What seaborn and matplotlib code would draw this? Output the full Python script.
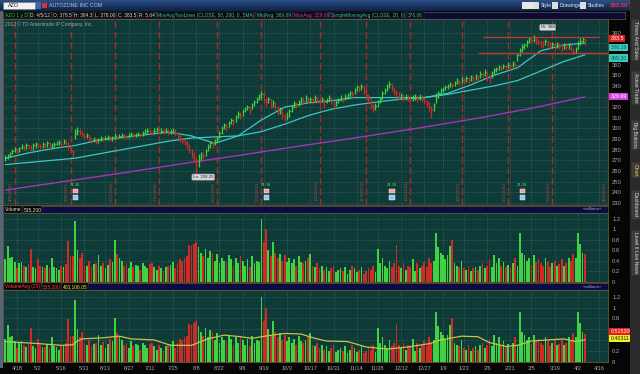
import numpy as np
import pandas as pd
import matplotlib
matplotlib.use("Agg")
import matplotlib.pyplot as plt
import seaborn as sns

# ---------------- data ----------------
symbol = "AZO"
company = "AUTOZONE INC COM"
start_date = "2011-04-11"
holidays = ["2011-04-22", "2011-05-30", "2011-07-04", "2011-09-05", "2011-11-24",
            "2011-12-26", "2012-01-02", "2012-01-16", "2012-02-20", "2012-04-06"]

closes = [272, 274, 277, 279, 281, 278, 282, 283, 282, 284,
          283, 281, 284, 285, 284, 283, 285, 284, 286, 283,
          284, 285, 286, 287, 285, 288, 286, 283, 279, 277,
          296, 298, 297, 295, 293, 294, 291, 289, 290, 288,
          289, 291, 290, 291, 292, 290, 291, 293, 292, 293,
          294, 293, 292, 294, 295, 293, 294, 295, 294, 296,
          297, 298, 297, 296, 298, 299, 297, 298, 297, 298,
          296, 297, 298, 296, 293, 290, 288, 287, 284, 280,
          276, 273, 266, 272, 275, 274, 279, 283, 286, 285,
          288, 290, 296, 300, 303, 301, 305, 308, 306, 311,
          314, 312, 316, 318, 320, 317, 322, 325, 328, 330,
          332, 327, 325, 328, 322, 324, 320, 316, 318, 313,
          310, 312, 316, 320, 324, 322, 325, 328, 326, 329,
          327, 328, 326, 329, 327, 326, 328, 325, 327, 329,
          326, 321, 325, 327, 329, 328, 330, 331, 333, 332,
          336, 339, 337, 340, 335, 331, 328, 322, 319, 321,
          325, 328, 333, 336, 340, 342, 338, 335, 333, 330,
          331, 328, 330, 329, 327, 329, 330, 328, 330, 328,
          326, 324, 320, 317, 322, 330, 333, 336, 337, 339,
          340, 342, 341, 343, 345, 344, 346, 345, 347, 346,
          348, 347, 349, 348, 351, 350, 353, 349, 347, 352,
          355, 356, 358, 357, 359, 358, 360, 359, 361, 360,
          369, 374, 377, 378, 381, 384, 383, 385, 382, 381,
          380, 379, 382, 380, 378, 379, 377, 379, 378, 376,
          378, 377, 378, 376, 372, 375, 379, 382, 384, 383.5]

highs = [275, 276, 278, 281, 283, 282, 283, 285, 284, 286,
         285, 284, 286, 287, 286, 285, 287, 286, 288, 287,
         286, 287, 288, 289, 288, 290, 289, 287, 284, 280,
         299, 301, 300, 298, 296, 296, 294, 292, 292, 291,
         291, 293, 292, 293, 294, 293, 293, 296, 294, 295,
         296, 295, 294, 296, 297, 296, 296, 297, 296, 298,
         299, 300, 299, 298, 300, 301, 300, 300, 299, 300,
         299, 299, 300, 299, 297, 294, 291, 290, 288, 285,
         281, 278, 272, 276, 278, 278, 281, 285, 288, 288,
         290, 293, 298, 302, 305, 304, 307, 310, 309, 313,
         316, 315, 318, 320, 322, 321, 324, 327, 330, 332,
         335, 334, 329, 330, 328, 327, 325, 321, 320, 318,
         314, 315, 318, 322, 326, 325, 327, 330, 329, 331,
         330, 330, 329, 331, 330, 329, 330, 328, 329, 331,
         330, 326, 327, 329, 331, 330, 332, 333, 335, 335,
         338, 341, 340, 342, 340, 336, 332, 329, 323, 324,
         327, 330, 335, 338, 342, 345, 343, 339, 336, 334,
         333, 332, 332, 331, 330, 331, 332, 331, 332, 331,
         329, 327, 325, 321, 324, 333, 335, 338, 339, 341,
         342, 344, 343, 345, 347, 346, 348, 347, 349, 348,
         350, 349, 351, 350, 354, 353, 356, 354, 351, 354,
         357, 358, 360, 359, 361, 360, 362, 361, 363, 362,
         371, 376, 379, 380, 383, 386, 385, 388, 386, 384,
         383, 382, 384, 383, 381, 381, 380, 381, 380, 379,
         380, 379, 380, 379, 376, 377, 382, 385, 386, 384.3]

lows = [269, 271, 273, 276, 278, 276, 278, 281, 280, 281,
        281, 279, 280, 282, 282, 281, 282, 282, 283, 281,
        281, 283, 284, 284, 283, 285, 284, 280, 277, 273,
        290, 294, 294, 292, 290, 291, 288, 286, 287, 285,
        286, 288, 288, 289, 289, 288, 288, 290, 290, 291,
        291, 291, 290, 291, 293, 291, 292, 293, 292, 293,
        295, 296, 295, 294, 295, 297, 295, 296, 295, 296,
        294, 295, 296, 293, 290, 287, 285, 284, 281, 277,
        272, 268, 258.25, 264, 270, 271, 274, 279, 282, 282,
        284, 287, 291, 295, 299, 298, 301, 304, 303, 306,
        310, 309, 312, 315, 317, 314, 318, 321, 324, 327,
        328, 324, 321, 324, 319, 320, 317, 313, 314, 309,
        307, 308, 311, 315, 319, 319, 321, 324, 323, 325,
        324, 325, 323, 325, 324, 323, 325, 319, 324, 326,
        323, 318, 321, 324, 326, 325, 327, 328, 330, 329,
        332, 335, 334, 336, 332, 328, 324, 318, 315, 317,
        320, 324, 328, 332, 335, 338, 335, 331, 330, 327,
        328, 326, 327, 326, 324, 326, 327, 325, 327, 325,
        323, 320, 316, 310, 316, 324, 329, 332, 334, 336,
        337, 339, 338, 340, 342, 341, 343, 342, 344, 343,
        345, 344, 346, 345, 347, 347, 349, 345, 343, 347,
        351, 353, 355, 354, 356, 355, 357, 356, 358, 357,
        363, 368, 372, 375, 377, 380, 380, 381, 379, 378,
        377, 376, 378, 377, 375, 376, 374, 376, 375, 373,
        375, 374, 375, 373, 370, 371, 375, 378, 380, 378]

volumes = [0.42, 0.68, 0.45, 0.47, 0.38, 0.25, 0.35, 0.38, 0.30, 0.27,
           0.33, 0.62, 0.28, 0.25, 0.42, 0.30, 0.27, 0.26, 0.32, 0.25,
           0.45, 0.28, 0.26, 0.22, 0.30, 0.28, 0.34, 0.78, 0.48, 0.48,
           1.15, 0.60, 0.45, 0.55, 0.32, 0.30, 0.40, 0.28, 0.33, 0.35,
           0.50, 0.30, 0.36, 0.25, 0.32, 0.42, 0.38, 0.80, 0.52, 0.45,
           0.40, 0.30, 0.35, 0.25, 0.38, 0.28, 0.32, 0.30, 0.22, 0.35,
           0.30, 0.25, 0.33, 0.35, 0.28, 0.22, 0.30, 0.25, 0.20, 0.28,
           0.30, 0.32, 0.38, 0.25, 0.35, 0.42, 0.40, 0.45, 0.48, 0.70,
           0.68, 0.72, 0.75, 0.65, 0.55, 0.48, 0.62, 0.45, 0.58, 0.55,
           0.40, 0.52, 0.35, 0.45, 0.40, 0.38, 0.50, 0.42, 0.30, 0.45,
           0.35, 0.48, 0.40, 0.30, 0.42, 0.28, 0.48, 0.35, 0.40, 0.38,
           1.20, 0.75, 1.00, 0.60, 0.48, 0.75, 0.55, 0.45, 0.52, 0.40,
           0.50, 0.38, 0.45, 0.35, 0.42, 0.30, 0.48, 0.38, 0.35, 0.40,
           0.45, 0.52, 0.30, 0.28, 0.35, 0.25, 0.30, 0.22, 0.28, 0.20,
           0.25, 0.30, 0.18, 0.22, 0.25, 0.20, 0.28, 0.15, 0.22, 0.30,
           0.25, 0.18, 0.22, 0.28, 0.15, 0.20, 0.25, 0.22, 0.30, 0.18,
           0.62, 0.35, 0.45, 0.30, 0.25, 0.40, 0.28, 0.35, 0.70, 0.30,
           0.25, 0.35, 0.22, 0.30, 0.28, 0.42, 0.20, 0.35, 0.25, 0.30,
           0.38, 0.28, 0.45, 0.35, 0.40, 0.92, 0.65, 0.55, 0.50, 0.42,
           0.50, 0.68, 0.80, 0.35, 0.30, 0.28, 0.40, 0.25, 0.22, 0.30,
           0.20, 0.25, 0.28, 0.22, 0.30, 0.35, 0.25, 0.30, 0.42, 0.28,
           0.50, 0.35, 0.45, 0.30, 0.38, 0.28, 0.32, 0.25, 0.35, 0.45,
           0.30, 0.92, 0.55, 0.50, 0.40, 0.45, 0.32, 0.50, 0.38, 0.42,
           0.35, 0.30, 0.45, 0.38, 0.28, 0.35, 0.40, 0.30, 0.33, 0.42,
           0.30, 0.35, 0.45, 0.40, 0.52, 0.45, 0.92, 0.72, 0.55, 0.515]

ma_days = [0, 10, 20, 30, 40, 50, 60, 70, 80, 90, 100, 110, 120, 130, 140,
           150, 160, 170, 180, 190, 200, 210, 220, 230, 240, 249]
ma20 = [272, 277, 281, 284, 289, 291.5, 294, 296.5, 293, 286, 293, 308, 320, 324,
        326, 329, 329, 329, 329, 333, 341, 350, 357, 373, 378.5, 380.19]
ma50 = [266, 268, 270, 272, 276, 280, 284, 288, 291, 292, 293, 297, 304, 312,
        318, 322, 325, 327.5, 329, 332, 336, 340, 345, 354, 363, 369.20]
ma200_days = [0, 25, 50, 75, 100, 125, 150, 175, 200, 225, 249]
ma200 = [242, 250, 258, 266.5, 274.5, 283, 291, 299.5, 308.5, 318.5, 329.69]

vavg_days = [0, 15, 24, 29, 31, 33, 42, 49, 54, 64, 71, 80, 87, 94, 101, 106, 113,
             120, 127, 133, 138, 147, 155, 164, 173, 182, 187, 196, 203, 208,
             215, 220, 226, 233, 240, 245, 249]
vavg = [0.37, 0.33, 0.30, 0.31, 0.38, 0.42, 0.44, 0.47, 0.42, 0.40, 0.30, 0.30,
        0.42, 0.49, 0.46, 0.43, 0.48, 0.52, 0.51, 0.43, 0.38, 0.37, 0.27, 0.23,
        0.27, 0.33, 0.40, 0.47, 0.46, 0.35, 0.28, 0.30, 0.38, 0.40, 0.42, 0.37, 0.403]

tick_dates = ["2011-04-18", "2011-05-02", "2011-05-16", "2011-05-31", "2011-06-13",
              "2011-06-27", "2011-07-11", "2011-07-25", "2011-08-08", "2011-08-22",
              "2011-09-06", "2011-09-19", "2011-10-03", "2011-10-17", "2011-10-31",
              "2011-11-14", "2011-11-28", "2011-12-12", "2011-12-27", "2012-01-09",
              "2012-01-23", "2012-02-06", "2012-02-21", "2012-03-05", "2012-03-19",
              "2012-04-02", "2012-04-16"]
expiry_dates = ["2011-04-15", "2011-05-20", "2011-06-17", "2011-07-15", "2011-08-19",
                "2011-09-16", "2011-10-21", "2011-11-18", "2011-12-16", "2012-01-20",
                "2012-02-17", "2012-03-16", "2012-04-20"]
earnings_dates = ["2011-05-24", "2011-09-20", "2011-12-06", "2012-02-28"]
price_ticks = list(range(230, 400, 10))
vol_ticks = [0, 0.2, 0.4, 0.6, 0.8, 1, 1.2]
resistance = 386.0
support = 371.2
last_price = 383.5
last_volume = "515,200"
vol_avg_label = "403,106.05"
header_items = ["AZO 1 y D", "D: 4/5/12", "O: 378.5", "H: 384.3", "L: 378.00", "C: 383.5",
                "R: 5.64", "MovAvgTwoLines (CLOSE, 50, 200, 0, SMA)", "MidAvg: 369.89",
                "MovAvg: 329.69", "SimpleMovingAvg (CLOSE, 20, 0)", "378.06"]

# ---------------- helpers ----------------
W, H = 640, 374
BG = "#0e3a38"
GRID = "#4d7775"
UP = "#3fd33f"
DN = "#d02a24"
CYAN = "#3cc8c2"
MAG = "#a833b9"
EXP = "#a52a2a"
TXT = "#a8a8a8"

sns.set_style("dark")
plt.rcParams["font.family"] = ["Liberation Sans", "DejaVu Sans"]
plt.rcParams["patch.edgecolor"] = "none"

def rect(x0, y0, x1, y1):
    return [x0 / W, 1 - y1 / H, (x1 - x0) / W, (y1 - y0) / H]

cbd = pd.offsets.CustomBusinessDay(holidays=holidays)
all_dates = pd.date_range(start_date, "2012-05-31", freq=cbd)
n = len(closes)
xs = np.arange(n)
pos = {d: i for i, d in enumerate(all_dates)}
def dpos(s):
    return pos[pd.Timestamp(s)]

tick_pos = [dpos(d) for d in tick_dates]
tick_lab = [f"{pd.Timestamp(d).month}/{pd.Timestamp(d).day}" for d in tick_dates]
exp_pos = [dpos(d) for d in expiry_dates]
earn_pos = [dpos(d) for d in earnings_dates]

prev = np.r_[closes[0], closes[:-1]]
up = np.array(closes) >= prev
cols = np.where(up, UP, DN)

XL = (-1.0, 258.9)

fig = plt.figure(figsize=(6.4, 3.74), dpi=100, facecolor="#060606")
renderer = fig.canvas.get_renderer()

def row_texts(x0, yc, items, fs, gap=2.5):
    xc = x0
    for s, c in items:
        t = fig.text(xc / W, 1 - yc / H, s, fontsize=fs, color=c, va="center", ha="left",
                     bbox=dict(boxstyle="square,pad=0.12", fc="#050505", ec="#4a4a4a", lw=0.3))
        bb = t.get_window_extent(renderer)
        xc = bb.x1 + gap + 2

# left frame strip
axl = fig.add_axes(rect(0, 11, 2.5, 368))
axl.set_facecolor("#55657d"); axl.set_xticks([]); axl.set_yticks([])
for sp in axl.spines.values():
    sp.set_visible(False)

# top toolbar gradient
axt = fig.add_axes(rect(0, 0, 640, 11))
grad = np.linspace(0, 1, 20).reshape(-1, 1)
axt.imshow(grad, aspect="auto", cmap=matplotlib.colors.LinearSegmentedColormap.from_list(
    "tb", ["#2a4f86", "#0d2247"]), extent=(0, 1, 0, 1))
axt.set_axis_off()
axt.add_patch(plt.Rectangle((0.005, 0.18), 0.05, 0.64, transform=axt.transAxes, fc="#f0f0f0", ec="#777", lw=0.4))
axt.text(0.012, 0.5, symbol, transform=axt.transAxes, fontsize=4, va="center", color="#222")
axt.add_patch(plt.Rectangle((0.056, 0.18), 0.008, 0.64, transform=axt.transAxes, fc="#3a67b8"))
axt.add_patch(plt.Rectangle((0.066, 0.3), 0.008, 0.45, transform=axt.transAxes, fc="#d33"))
axt.text(0.076, 0.5, company, transform=axt.transAxes, fontsize=3.8, va="center", color="#b9c3d6")
for xx, s in [(0.845, "Style"), (0.875, "Drawings"), (0.918, "Studies")]:
    axt.add_patch(plt.Rectangle((xx - 0.012, 0.2), 0.009, 0.6, transform=axt.transAxes, fc="#ddd"))
    axt.text(xx, 0.5, s, transform=axt.transAxes, fontsize=3.6, va="center", color="#e8e8e8")
axt.add_patch(plt.Rectangle((0.815, 0.2), 0.02, 0.6, transform=axt.transAxes, fc="#e8e8e8"))
axt.text(0.953, 0.5, "383.50", transform=axt.transAxes, fontsize=4.3, va="center", color="#ff2a2a", weight="bold")
axt.text(0.983, 0.5, "-0.4\n-0.1%", transform=axt.transAxes, fontsize=2, va="center", color="#ff4444")

# header row (study labels)
hdr = fig.add_axes(rect(3, 11.5, 625, 19))
hdr.set_facecolor("#0a0a3c")
hdr.set_xticks([]); hdr.set_yticks([])
for sp in hdr.spines.values():
    sp.set_color("#6b5a2a"); sp.set_linewidth(0.5)
hcols = ["#33dd33"] + ["#e0e0e0"] * 6 + [CYAN, CYAN, "#d040e0", CYAN, CYAN]
row_texts(5, 15.3, list(zip(header_items, hcols)), 3.5, gap=0.5)

# ---------------- price panel ----------------
axp = fig.add_axes(rect(3, 19, 608, 205), facecolor=BG)
axp.set_xlim(*XL)
axp.set_ylim(228.0, 402.9)
axp.set_yticks(price_ticks)
axp.set_yticklabels(["" if v in (330, 370, 380) else str(v) for v in price_ticks])
axp.set_xticks(tick_pos)
axp.grid(True, color=GRID, ls=(0, (1, 2)), lw=0.5)
axp.tick_params(axis="x", labelbottom=False, length=0)
axp.yaxis.tick_right()
axp.tick_params(axis="y", labelsize=4.2, colors=TXT, length=0, pad=3)
for sp in axp.spines.values():
    sp.set_color("#6b5a2a"); sp.set_linewidth(0.6)

for p, d in zip(exp_pos, expiry_dates):
    axp.axvline(p, color=EXP, ls=(0, (5, 2.5)), lw=1.0, zorder=1)
    ts = pd.Timestamp(d)
    axp.text(p - 0.6, 232, f"{ts.month}/{ts.day}/{ts.year}", rotation=90, fontsize=3.2,
             color="#b04a40", ha="right", va="bottom", zorder=2)

axp.vlines(xs, lows, highs, colors=cols, lw=0.9, zorder=4)
axp.hlines(closes, xs, xs + 0.6, colors=cols, lw=0.6, zorder=4)

sns.lineplot(x=ma200_days, y=ma200, ax=axp, color=MAG, lw=1.0, zorder=3)
sns.lineplot(x=ma_days, y=ma50, ax=axp, color=CYAN, lw=0.9, zorder=3)
sns.lineplot(x=ma_days, y=ma20, ax=axp, color=CYAN, lw=0.9, zorder=3)

axp.hlines(resistance, 205, 255, color="#b83a34", lw=1.0, zorder=5)
axp.hlines(support, 203, XL[1], color="#b83a34", lw=1.0, zorder=5)

ihi = int(np.argmax(highs)); ilo = int(np.argmin(lows))
bb = dict(boxstyle="round,pad=0.25", fc="#d9d9d9", ec="#888", lw=0.4)
axp.text(ihi + 6, highs[ihi] + 7, f"Hi: {highs[ihi]:.0f}", fontsize=3.2, color="#222", ha="center", va="center", bbox=bb, zorder=6)
axp.text(ilo + 3, lows[ilo] - 4, f"Lo: {lows[ilo]:.2f}", fontsize=3.2, color="#222", ha="center", va="center", bbox=bb, zorder=6)

for p in earn_pos:
    axp.add_patch(plt.Rectangle((p - 1.0, 239), 2.2, 4.5, fc="#f2a0a8", ec="#fff", lw=0.3, zorder=6))
    axp.add_patch(plt.Rectangle((p - 1.0, 232.5), 2.2, 4.5, fc="#8fc8f0", ec="#fff", lw=0.3, zorder=6))
    axp.text(p, 245, "24.38", fontsize=3, color="#55dd55", ha="center", va="bottom", zorder=6)

axp.text(0.003, 0.985, "2012 © TD Ameritrade IP Company, Inc.", transform=axp.transAxes,
         fontsize=3.5, color="#9aa", va="top", ha="left")

def tag(ax, y, s, fc, tc):
    ax.text(1.004, y, s, transform=ax.get_yaxis_transform(), fontsize=3.8, color=tc, va="center",
            ha="left", bbox=dict(boxstyle="square,pad=0.2", fc=fc, ec="none"), zorder=7, clip_on=False)

tag(axp, last_price + 1, "383.5", "#e02020", "#fff")
tag(axp, ma20[-1] - 4, f"{ma20[-1]:.2f}", CYAN, "#063")
tag(axp, ma50[-1] - 3, f"{ma50[-1]:.2f}", CYAN, "#063")
tag(axp, ma200[-1], f"{ma200[-1]:.2f}", "#d040e0", "#fff")

# ---------------- volume header + panel ----------------
def header(y0, y1, left_items, right="«millions»"):
    h = fig.add_axes(rect(3, y0, 608, y1))
    h.set_facecolor("#0b0b45"); h.set_xticks([]); h.set_yticks([])
    for sp in h.spines.values():
        sp.set_color("#6b5a2a"); sp.set_linewidth(0.5)
    row_texts(5, (y0 + y1) / 2, left_items, 3.5, gap=0.5)
    fig.text(602 / W, 1 - (y0 + y1) / 2 / H, right, fontsize=3.2, color="#aaa", va="center", ha="right")

header(206, 213, [("Volume", "#e0e0e0"), (last_volume, "#e0e0e0")])
axv = fig.add_axes(rect(3, 213, 608, 281.5), facecolor=BG)
axv.bar(xs, volumes, width=0.75, color=cols, edgecolor="none", linewidth=0, zorder=3)
axv.set_xlim(*XL); axv.set_ylim(0, 1.306)

header(283, 290, [("VolumeAvg (20)", "#ff4040"), (last_volume, "#ff4040"), (vol_avg_label, "#f0f040")])
axa = fig.add_axes(rect(3, 290, 608, 361.5), facecolor=BG)
axa.bar(xs, volumes, width=0.75, color=cols, edgecolor="none", linewidth=0, zorder=3)
sns.lineplot(x=vavg_days, y=vavg, ax=axa, color="#c9c24a", lw=0.9, zorder=4)
axa.set_xlim(*XL); axa.set_ylim(0, 1.327)

for ax in (axv, axa):
    ax.set_yticks(vol_ticks)
    ax.set_yticklabels(["0", "0.2", "0.4", "0.6", "0.8", "1", "1.2"])
    ax.set_xticks(tick_pos)
    ax.grid(True, color=GRID, ls=(0, (1, 2)), lw=0.5)
    ax.yaxis.tick_right()
    ax.tick_params(axis="y", labelsize=4.2, colors=TXT, length=0, pad=3)
    ax.tick_params(axis="x", labelbottom=False, length=0)
    ax.set_xlabel(""); ax.set_ylabel("")
    for sp in ax.spines.values():
        sp.set_color("#6b5a2a"); sp.set_linewidth(0.6)
axp.set_xlabel(""); axp.set_ylabel("")
axa.set_yticklabels(["0", "0.2", "", "", "0.8", "1", "1.2"])

axa.set_xticklabels(tick_lab)
axa.tick_params(axis="x", labelbottom=True, labelsize=4.0, colors=TXT, pad=3)
tag(axa, 0.55, "0.515200", "#e02020", "#fff")
tag(axa, 0.42, "0.40311", "#f0f020", "#222")

# ---------------- right sidebar ----------------
axs = fig.add_axes(rect(630, 0, 640, 374))
axs.set_facecolor("#2a2a2a"); axs.set_xticks([]); axs.set_yticks([])
for sp in axs.spines.values():
    sp.set_visible(False)
for yc, s in [(40, "Times And Sales"), (88, "Active Trader"), (135, "Big Buttons"), (170, "Chart"),
              (205, "Dashboard"), (240, "Level II"), (262, "Live News")]:
    fig.text(635 / W, 1 - yc / H, s, rotation=270, fontsize=3.6, color="#ddd" if s != "Chart" else "#ffd24a",
             ha="center", va="center",
             bbox=dict(boxstyle="square,pad=0.2", fc="#3a3a3a", ec="#555", lw=0.3))

fig.savefig("out.png", dpi=100, facecolor=fig.get_facecolor())
